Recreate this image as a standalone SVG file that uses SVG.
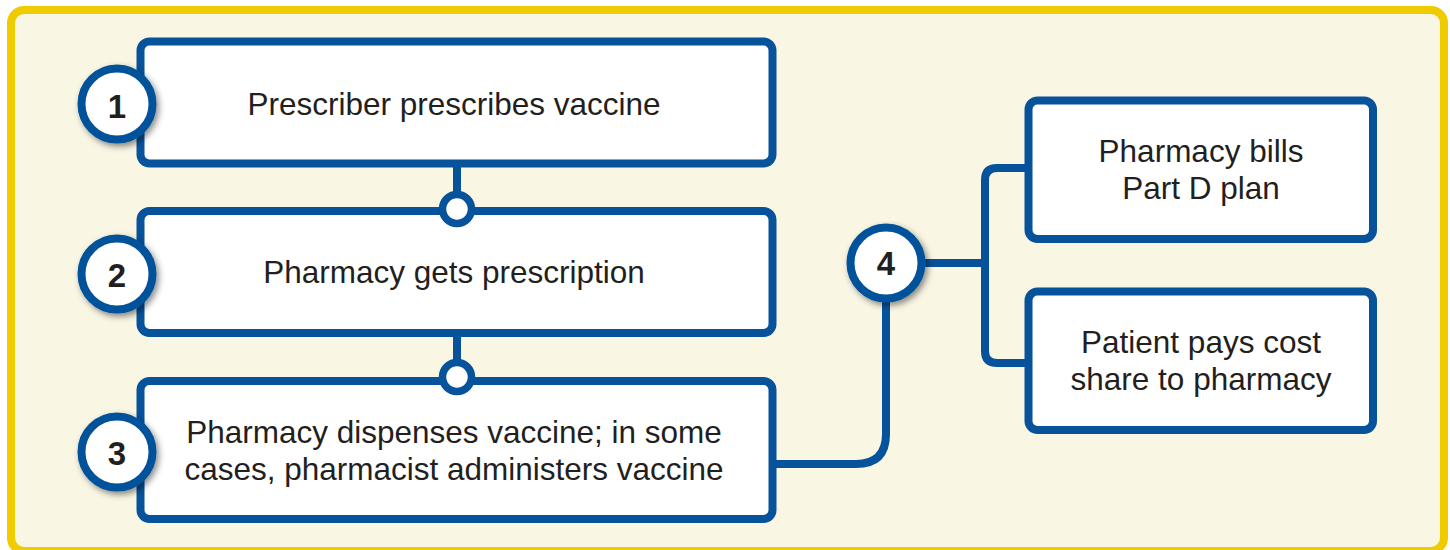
<svg xmlns="http://www.w3.org/2000/svg" width="1450" height="550" viewBox="0 0 1450 550">
  <defs>
    <filter id="shadow" x="-40%" y="-40%" width="180%" height="180%">
      <feDropShadow dx="2.5" dy="3" stdDeviation="3" flood-color="#000" flood-opacity="0.45"/>
    </filter>
  </defs>
  <style>
    .frame { fill: #faf6e4; stroke: #f0cb00; stroke-width: 8; }
    .box { fill: #ffffff; stroke: #06529b; stroke-width: 8; }
    .badge { fill: #ffffff; stroke: #06529b; stroke-width: 8; filter: url(#shadow); }
    .dot { fill: #ffffff; stroke: #06529b; stroke-width: 7.5; }
    .conn { fill: none; stroke: #06529b; stroke-width: 8; }
    .label { font-family: "Liberation Sans", Arial, sans-serif; font-size: 31.5px; fill: #231f20; text-anchor: middle; }
    .num { font-family: "Liberation Sans", Arial, sans-serif; font-size: 33px; font-weight: bold; fill: #231f20; text-anchor: middle; }
  </style>

  <rect class="frame" x="11" y="10" width="1433" height="541" rx="13"/>

  <g id="connectors">
    <path class="conn" d="M457 163 V196"/>
    <path class="conn" d="M457 333 V364"/>
    <path class="conn" d="M772 464 H856 Q886 464 886 434 V298"/>
    <path class="conn" d="M921 263 H985"/>
    <path class="conn" d="M1028 168 H997 Q985 168 985 180 V351 Q985 363 997 363 H1028"/>
  </g>

  <g id="node1">
    <rect class="box" x="140.5" y="41.5" width="632" height="122" rx="9"/>
    <text class="label" x="454" y="115">Prescriber prescribes vaccine</text>
  </g>
  <g id="node2">
    <rect class="box" x="140.5" y="211" width="632" height="122" rx="9"/>
    <text class="label" x="454" y="283">Pharmacy gets prescription</text>
  </g>
  <g id="node3">
    <rect class="box" x="140.5" y="381" width="632" height="138" rx="9"/>
    <text class="label" x="454" y="443">Pharmacy dispenses vaccine; in some</text>
    <text class="label" x="454" y="480">cases, pharmacist administers vaccine</text>
  </g>
  <g id="nodeA">
    <rect class="box" x="1028.5" y="100.5" width="344.5" height="138.5" rx="9"/>
    <text class="label" x="1201" y="162">Pharmacy bills</text>
    <text class="label" x="1201" y="199">Part D plan</text>
  </g>
  <g id="nodeB">
    <rect class="box" x="1028.5" y="291.5" width="344.5" height="138.5" rx="9"/>
    <text class="label" x="1201" y="353">Patient pays cost</text>
    <text class="label" x="1201" y="390">share to pharmacy</text>
  </g>

  <g id="dot1"><circle class="dot" cx="457" cy="209" r="14.5"/></g>
  <g id="dot2"><circle class="dot" cx="457" cy="377" r="14.5"/></g>

  <g id="badge1">
    <circle class="badge" cx="117" cy="104" r="35.5"/>
    <text class="num" x="117" y="118">1</text>
  </g>
  <g id="badge2">
    <circle class="badge" cx="117" cy="274" r="35.5"/>
    <text class="num" x="117" y="287">2</text>
  </g>
  <g id="badge3">
    <circle class="badge" cx="117" cy="452" r="35.5"/>
    <text class="num" x="117" y="465">3</text>
  </g>
  <g id="badge4">
    <circle class="badge" cx="886" cy="263" r="35.5"/>
    <text class="num" x="886" y="275">4</text>
  </g>
</svg>
